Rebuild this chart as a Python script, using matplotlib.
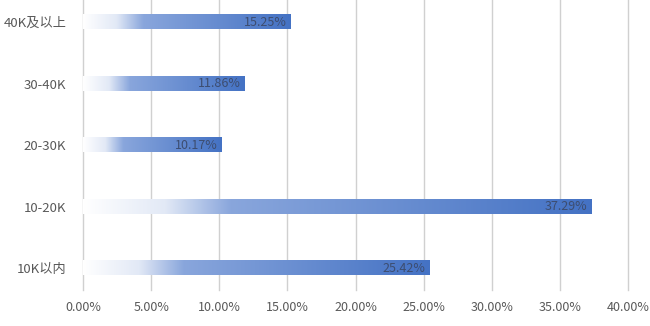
import numpy as np
import matplotlib
matplotlib.use("Agg")
import matplotlib.pyplot as plt
from matplotlib.colors import LinearSegmentedColormap

plt.rcParams['font.family'] = ['Noto Sans CJK SC', 'DejaVu Sans']

categories = ["10K以内", "10-20K", "20-30K", "30-40K", "40K及以上"]
values = [25.42, 37.29, 10.17, 11.86, 15.25]
xticks = [0, 5, 10, 15, 20, 25, 30, 35, 40]

fig = plt.figure(figsize=(6.5, 3.26), dpi=100)
ax = fig.add_axes([0.1277, 0.110, 0.8385, 0.890])

cmap = LinearSegmentedColormap.from_list(
    "g", [(0, "#ffffff"), (0.16, "#e2e9f6"), (0.29, "#89a6dc"), (1.0, "#4472c4")])
grad = np.linspace(0, 1, 256).reshape(1, -1)
h = 0.23
for i, v in enumerate(values):
    ax.imshow(grad, cmap=cmap, aspect="auto", extent=[0, v, i - h / 2, i + h / 2],
              interpolation="bilinear", zorder=3)
    ax.text(v - 0.3, i, f"{v:.2f}%", ha="right", va="center", fontsize=9,
            color="#3d4d70", zorder=4)

ax.set_xlim(0, 40)
ax.set_ylim(-0.36, 4.36)
ax.set_xticks(xticks)
ax.set_xticklabels([f"{t:.2f}%" for t in xticks], fontsize=9, color="#595959")
ax.set_yticks(range(len(categories)))
ax.set_yticklabels(categories, fontsize=9.5, color="#595959")
ax.tick_params(length=0, pad=8)
ax.tick_params(axis='y', pad=12)
for s in ax.spines.values():
    s.set_visible(False)
ax.set_axisbelow(True)
ax.xaxis.grid(True, color="#d0d0d0", linewidth=1, clip_on=False)

fig.savefig("out.png", dpi=100)
